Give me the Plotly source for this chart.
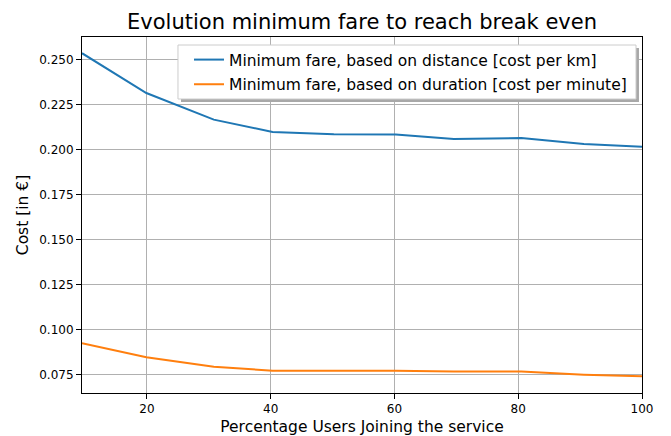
import plotly.graph_objects as go

x_pct = [9.5, 19.9, 30.8, 40.3, 50.2, 60.2, 69.6, 80.5, 90.6, 100.0]
dist_cost = [0.2537, 0.2316, 0.2168, 0.2100, 0.2087, 0.2085, 0.2061, 0.2066, 0.2033, 0.2017]
dur_cost = [0.0926, 0.0848, 0.0796, 0.0774, 0.0773, 0.0774, 0.0770, 0.0769, 0.0752, 0.0743]

name_dist = "Minimum fare, based on distance [cost per km]"
name_dur = "Minimum fare, based on duration [cost per minute]"

x_ticks = [20, 40, 60, 80, 100]
y_ticks = [0.075, 0.100, 0.125, 0.150, 0.175, 0.200, 0.225, 0.250]
y_ticklabels = ["0.075", "0.100", "0.125", "0.150", "0.175", "0.200", "0.225", "0.250"]

FONT = "DejaVu Sans"

fig = go.Figure()
fig.add_trace(go.Scatter(x=x_pct, y=dist_cost, mode="lines", name=name_dist,
                         legendgroup="a",
                         line=dict(color="#1f77b4", width=2)))
fig.add_trace(go.Scatter(x=x_pct, y=dur_cost, mode="lines", name=name_dur,
                         legendgroup="b",
                         line=dict(color="#ff7f0e", width=2)))

# legend frame: shadow + box (paper coordinates)
fig.add_shape(type="rect", xref="paper", yref="paper",
              x0=0.1768, x1=0.9946, y0=0.8174, y1=0.9691,
              fillcolor="#a8a8a8", line=dict(width=0), layer="above")
fig.add_shape(type="rect", xref="paper", yref="paper",
              x0=0.1714, x1=0.9893, y0=0.8258, y1=0.9775,
              fillcolor="white", line=dict(color="#cccccc", width=1), layer="above")

fig.update_layout(
    width=671, height=436,
    margin=dict(l=82, r=29, t=37, b=43, autoexpand=False),
    paper_bgcolor="white", plot_bgcolor="white",
    font=dict(family=FONT, color="black", size=12),
    title=dict(text="Evolution minimum fare to reach break even",
               x=0.5, xanchor="center", xref="paper", y=0.9495, yanchor="middle",
               font=dict(size=21, family=FONT, color="black")),
    legend=dict(x=0.1911, y=0.9831, xanchor="left", yanchor="top",
                bgcolor="rgba(0,0,0,0)", borderwidth=0,
                font=dict(size=15.5, family=FONT, color="black"),
                tracegroupgap=1.5, itemwidth=30),
    showlegend=True,
)

fig.update_xaxes(range=[9.5, 100], tickvals=x_ticks, ticks="outside", ticklen=5,
                 automargin=False,
                 tickcolor="black", showline=True, linecolor="black", linewidth=1,
                 mirror=True, showgrid=True, gridcolor="#b0b0b0", gridwidth=1,
                 zeroline=False, tickfont=dict(size=12, family=FONT),
                 title=dict(text="Percentage Users Joining the service",
                            font=dict(size=15.5, family=FONT), standoff=9))
fig.update_yaxes(range=[0.0650, 0.2627], tickvals=y_ticks, ticktext=y_ticklabels,
                 ticks="outside", ticklen=5, automargin=False,
                 tickcolor="black", showline=True, linecolor="black", linewidth=1,
                 mirror=True, showgrid=True, gridcolor="#b0b0b0", gridwidth=1,
                 zeroline=False, tickfont=dict(size=12, family=FONT),
                 title=dict(text="Cost [in €]", font=dict(size=15.5, family=FONT), standoff=6))

fig.write_html("out.html", config={"displayModeBar": False},
               post_script="document.body.style.margin='0';")
